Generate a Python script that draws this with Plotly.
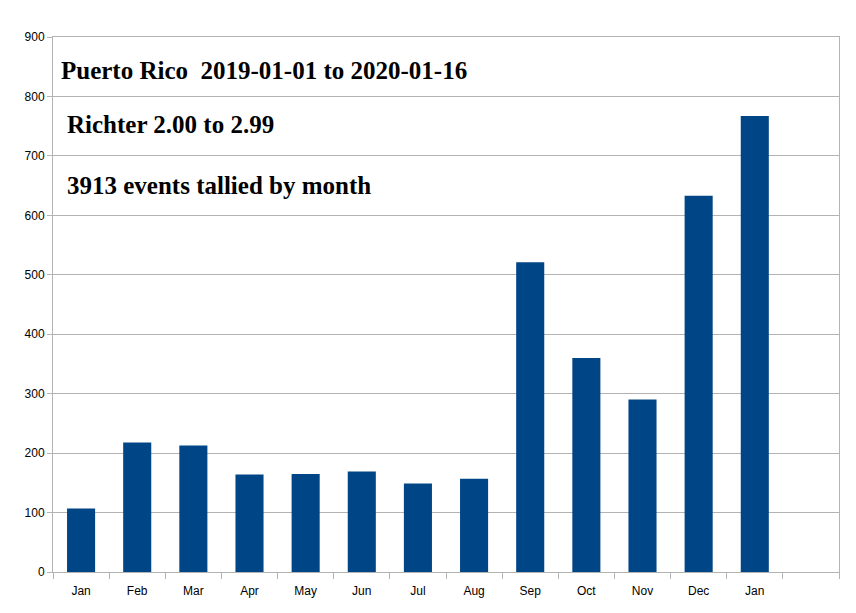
import plotly.graph_objects as go

months = ["Jan", "Feb", "Mar", "Apr", "May", "Jun", "Jul", "Aug", "Sep", "Oct", "Nov", "Dec", "Jan"]
counts = [107, 218, 213, 164, 165, 169, 149, 157, 521, 360, 290, 633, 767]
y_ticks = [0, 100, 200, 300, 400, 500, 600, 700, 800, 900]
notes = ["Puerto Rico\u00a0 2019-01-01 to 2020-01-16", "Richter 2.00 to 2.99", "3913 events tallied by month"]

n_slots = len(months) + 1
xpos = list(range(len(months)))

fig = go.Figure()
fig.add_trace(go.Bar(x=xpos, y=counts, marker=dict(color="#004586", line=dict(width=0)), width=0.5))

fig.update_layout(
    width=848, height=605,
    margin=dict(l=45, r=17, t=29, b=41),
    paper_bgcolor="white", plot_bgcolor="white",
    showlegend=False,
    font=dict(family="Liberation Sans, Arial, sans-serif", size=12, color="#000000"),
)
fig.update_xaxes(
    range=[-0.5, n_slots - 0.5],
    tickmode="array", tickvals=xpos, ticktext=months,
    ticks="", showgrid=False,
    showline=True, linecolor="#b3b3b3", linewidth=1, mirror=True,
    minor=dict(tickmode="array", tickvals=[i - 0.5 for i in range(n_slots + 1)], ticks="outside", ticklen=6, tickcolor="#b3b3b3", showgrid=False),
    tickfont=dict(size=12), zeroline=False, ticklabelstandoff=8,
)
fig.update_yaxes(
    range=[0, 900], tickmode="array", tickvals=y_ticks,
    showgrid=True, gridcolor="#b3b3b3", gridwidth=1,
    showline=True, linecolor="#b3b3b3", linewidth=1, mirror=True,
    ticks="outside", ticklen=5, tickcolor="#b3b3b3",
    tickfont=dict(size=12), zeroline=False,
)

note_x = [0.0076, 0.0153, 0.0153]
note_y = [843, 752, 651]
for txt, xx, yy in zip(notes, note_x, note_y):
    fig.add_annotation(text=txt, x=xx, y=yy, xref="paper", yref="y", xanchor="left", yanchor="middle",
                       showarrow=False, font=dict(family="Liberation Serif", size=25, color="#000000", weight="bold"))
fig.write_html("out.html")
